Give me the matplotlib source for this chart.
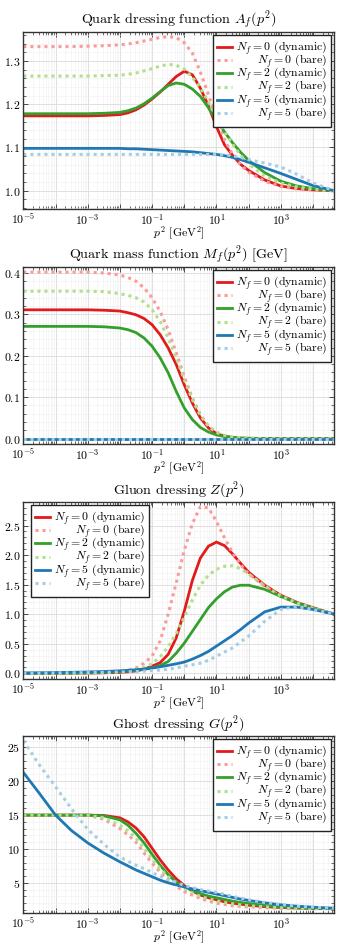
import matplotlib
matplotlib.use("Agg")
import matplotlib.pyplot as plt
from matplotlib.ticker import LogLocator, NullFormatter, AutoMinorLocator, MultipleLocator

plt.rcParams["font.family"] = "serif"
plt.rcParams["font.serif"] = ["cmr10"]
plt.rcParams["mathtext.fontset"] = "cm"
plt.rcParams["axes.formatter.use_mathtext"] = True

# momentum grid p^2 [GeV^2]
p2 = [1e-5, 3.16e-5, 1e-4, 3.16e-4, 1e-3, 3.16e-3, 1e-2, 1.78e-2, 3.16e-2, 5.62e-2,
      0.1, 0.178, 0.316, 0.562, 1.0, 1.78, 3.16, 5.62, 10.0, 17.8, 31.6, 56.2,
      100.0, 316.0, 1000.0, 3162.0, 1e4, 4.6e4]

# Quark dressing A_f
A_dyn0 = [1.173, 1.173, 1.173, 1.173, 1.173, 1.174, 1.176, 1.180, 1.187, 1.198, 1.212, 1.228, 1.246, 1.264,
          1.276, 1.268, 1.237, 1.196, 1.148, 1.106, 1.082, 1.061, 1.047, 1.025, 1.011, 1.005, 1.002, 1.0]
A_bare0 = [1.333, 1.333, 1.333, 1.333, 1.334, 1.335, 1.337, 1.339, 1.342, 1.346, 1.350, 1.354, 1.356, 1.354,
           1.342, 1.318, 1.274, 1.222, 1.165, 1.118, 1.084, 1.060, 1.043, 1.022, 1.010, 1.004, 1.002, 1.0]
A_dyn2 = [1.178, 1.178, 1.178, 1.178, 1.178, 1.179, 1.181, 1.185, 1.191, 1.201, 1.214, 1.229, 1.243, 1.249,
          1.246, 1.235, 1.218, 1.192, 1.163, 1.136, 1.111, 1.089, 1.070, 1.042, 1.022, 1.011, 1.005, 1.0]
A_bare2 = [1.265, 1.265, 1.265, 1.265, 1.265, 1.266, 1.267, 1.269, 1.272, 1.277, 1.282, 1.288, 1.292, 1.290,
           1.281, 1.262, 1.238, 1.205, 1.168, 1.137, 1.108, 1.082, 1.062, 1.034, 1.018, 1.009, 1.004, 1.0]
A_dyn5 = [1.098, 1.098, 1.098, 1.098, 1.098, 1.098, 1.098, 1.097, 1.097, 1.096, 1.095, 1.094, 1.093, 1.092,
          1.091, 1.090, 1.088, 1.086, 1.084, 1.081, 1.077, 1.072, 1.066, 1.053, 1.040, 1.026, 1.012, 1.0]
A_bare5 = [1.084, 1.084, 1.084, 1.084, 1.084, 1.084, 1.084, 1.084, 1.084, 1.084, 1.084, 1.084, 1.084, 1.084,
           1.084, 1.084, 1.084, 1.084, 1.084, 1.083, 1.081, 1.077, 1.072, 1.064, 1.055, 1.038, 1.018, 1.0]

# Quark mass M_f [GeV]
M_dyn0 = [0.311, 0.311, 0.311, 0.311, 0.311, 0.310, 0.308, 0.304, 0.299, 0.290, 0.275, 0.251, 0.219, 0.179,
          0.130, 0.086, 0.050, 0.026, 0.012, 0.006, 0.0025, 0.001, 0.0005, 0.0, 0.0, 0.0, 0.0, 0.0]
M_bare0 = [0.402, 0.402, 0.402, 0.402, 0.402, 0.400, 0.395, 0.389, 0.380, 0.364, 0.340, 0.307, 0.263, 0.207,
           0.150, 0.098, 0.058, 0.030, 0.015, 0.007, 0.003, 0.0015, 0.0007, 0.0, 0.0, 0.0, 0.0, 0.0]
M_dyn2 = [0.271, 0.271, 0.271, 0.271, 0.271, 0.270, 0.267, 0.263, 0.256, 0.243, 0.223, 0.195, 0.159, 0.114,
          0.074, 0.046, 0.027, 0.016, 0.009, 0.005, 0.003, 0.0015, 0.001, 0.0003, 0.0, 0.0, 0.0, 0.0]
M_bare2 = [0.356, 0.356, 0.356, 0.356, 0.356, 0.355, 0.350, 0.346, 0.340, 0.330, 0.311, 0.283, 0.243, 0.195,
           0.142, 0.094, 0.056, 0.030, 0.015, 0.008, 0.004, 0.002, 0.001, 0.0, 0.0, 0.0, 0.0, 0.0]
M_dyn5 = [0.0] * 28
M_bare5 = [0.0] * 28

# Gluon dressing Z
Z_dyn0 = [0.0, 0.0, 0.001, 0.002, 0.004, 0.008, 0.015, 0.025, 0.04, 0.07, 0.12, 0.18, 0.32, 0.60,
          1.05, 1.57, 1.95, 2.15, 2.22, 2.16, 2.02, 1.86, 1.71, 1.49, 1.32, 1.20, 1.11, 1.0]
Z_bare0 = [0.0, 0.0, 0.001, 0.002, 0.005, 0.012, 0.03, 0.05, 0.09, 0.17, 0.29, 0.55, 1.00, 1.53,
           2.08, 2.53, 2.82, 2.80, 2.57, 2.29, 2.04, 1.84, 1.68, 1.47, 1.30, 1.19, 1.10, 1.0]
Z_dyn2 = [0.0, 0.001, 0.002, 0.004, 0.008, 0.015, 0.028, 0.038, 0.05, 0.068, 0.09, 0.13, 0.20, 0.34,
          0.51, 0.71, 0.91, 1.11, 1.26, 1.38, 1.46, 1.49, 1.49, 1.42, 1.30, 1.19, 1.10, 1.0]
Z_bare2 = [0.0, 0.001, 0.002, 0.004, 0.007, 0.015, 0.03, 0.045, 0.065, 0.10, 0.16, 0.28, 0.45, 0.67,
           0.95, 1.24, 1.49, 1.66, 1.76, 1.81, 1.82, 1.77, 1.68, 1.48, 1.31, 1.19, 1.10, 1.0]
Z_dyn5 = [0.005, 0.008, 0.012, 0.017, 0.022, 0.03, 0.042, 0.05, 0.06, 0.072, 0.088, 0.11, 0.135, 0.16,
          0.19, 0.24, 0.30, 0.37, 0.46, 0.55, 0.64, 0.74, 0.85, 1.04, 1.12, 1.12, 1.08, 1.0]
Z_bare5 = [0.003, 0.004, 0.006, 0.009, 0.012, 0.016, 0.022, 0.026, 0.03, 0.036, 0.045, 0.055, 0.07, 0.09,
           0.12, 0.145, 0.17, 0.22, 0.29, 0.36, 0.43, 0.53, 0.63, 0.88, 1.08, 1.13, 1.08, 1.0]

# Ghost dressing G
G_dyn0 = [15.0, 15.0, 15.0, 15.0, 15.0, 14.95, 14.6, 14.0, 13.1, 11.8, 10.1, 8.4, 6.9, 5.6,
          4.6, 3.8, 3.2, 2.8, 2.5, 2.2, 2.0, 1.85, 1.7, 1.48, 1.35, 1.27, 1.22, 1.2]
G_bare0 = [15.0, 15.0, 15.0, 15.0, 15.0, 14.4, 13.0, 12.1, 11.0, 9.4, 7.9, 6.6, 5.4, 4.5,
           3.7, 3.2, 2.7, 2.3, 2.0, 1.8, 1.62, 1.52, 1.45, 1.32, 1.25, 1.22, 1.2, 1.2]
G_dyn2 = [15.0, 15.0, 15.0, 15.0, 15.0, 14.9, 14.3, 13.5, 12.3, 10.9, 9.2, 7.6, 6.2, 5.1,
          4.4, 3.9, 3.4, 3.05, 2.8, 2.55, 2.3, 2.1, 1.95, 1.65, 1.45, 1.32, 1.25, 1.2]
G_bare2 = [15.0, 15.0, 15.0, 15.0, 15.0, 14.6, 13.5, 12.7, 11.6, 10.1, 8.5, 7.1, 5.9, 4.9,
           4.1, 3.5, 3.0, 2.65, 2.35, 2.1, 1.9, 1.75, 1.62, 1.45, 1.35, 1.27, 1.22, 1.2]
G_dyn5 = [21.3, 18.2, 15.0, 12.7, 10.9, 9.4, 8.1, 7.5, 6.9, 6.4, 5.9, 5.4, 5.0, 4.7,
          4.4, 4.1, 3.85, 3.6, 3.35, 3.1, 2.85, 2.6, 2.4, 2.05, 1.75, 1.55, 1.4, 1.25]
G_bare5 = [26.0, 22.4, 19.2, 15.9, 12.9, 10.7, 8.8, 8.2, 7.6, 7.1, 6.5, 6.0, 5.5, 5.1,
           4.6, 4.3, 4.0, 3.8, 3.6, 3.3, 3.0, 2.75, 2.5, 2.1, 1.8, 1.55, 1.4, 1.25]

labels = [r"$N_f = 0$ (dynamic)", r"$N_f = 0$ (bare)",
          r"$N_f = 2$ (dynamic)", r"$N_f = 2$ (bare)",
          r"$N_f = 5$ (dynamic)", r"$N_f = 5$ (bare)"]
colors = ["#e31a1c", "#fb9a99", "#33a02c", "#b2df8a", "#1f78b4", "#a6cee3"]

panels = [
    ("Quark dressing function $A_f(p^2)$", [A_dyn0, A_bare0, A_dyn2, A_bare2, A_dyn5, A_bare5],
     (0.958, 1.367), 0.1, "upper right", (1.0, 1.0)),
    ("Quark mass function $M_f(p^2)$ [GeV]", [M_dyn0, M_bare0, M_dyn2, M_bare2, M_dyn5, M_bare5],
     (-0.013, 0.4145), 0.1, "upper right", (1.0, 1.0)),
    ("Gluon dressing $Z(p^2)$", [Z_dyn0, Z_bare0, Z_dyn2, Z_bare2, Z_dyn5, Z_bare5],
     (-0.096, 2.90), 0.5, "upper left", (0.013, 1.0)),
    ("Ghost dressing $G(p^2)$", [G_dyn0, G_bare0, G_dyn2, G_bare2, G_dyn5, G_bare5],
     (0.55, 26.7), 5, "upper right", (1.0, 1.0)),
]

fig = plt.figure(figsize=(3.41, 9.52), dpi=100)
bottoms = [0.7805, 0.5336, 0.2868, 0.041]

legends = []
for (title, series, ylim, ystep, loc, anchor), b in zip(panels, bottoms):
    ax = fig.add_axes([0.0685, b, 0.912, 0.186])
    for i, (vals, lab, c) in enumerate(zip(series, labels, colors)):
        if i % 2 == 0:
            ax.plot(p2, vals, color=c, lw=2.0, ls="-", label=lab)
        else:
            ax.plot(p2, vals, color=c, lw=2.2, ls=(0, (1, 1.3)), label=lab)
    ax.set_xscale("log")
    ax.set_xlim(1e-5, 4.6e4)
    ax.set_ylim(*ylim)
    ax.xaxis.set_minor_locator(LogLocator(base=10, subs=[2, 3, 4, 5, 6, 7, 8, 9], numticks=20))
    ax.xaxis.set_minor_formatter(NullFormatter())
    ax.set_xticks([1e-5, 1e-4, 1e-3, 1e-2, 1e-1, 1, 10, 100, 1e3, 1e4])
    ax.set_xticklabels(["$10^{-5}$", "", "$10^{-3}$", "", "$10^{-1}$", "", "$10^{1}$", "", "$10^{3}$", ""])
    ax.yaxis.set_major_locator(MultipleLocator(ystep))
    ax.yaxis.set_minor_locator(AutoMinorLocator(5))
    ax.tick_params(which="both", direction="in", top=True, right=True, labelsize=8.5,
                   color="#333333", pad=2)
    ax.tick_params(which="major", length=3.5, width=0.6)
    ax.tick_params(which="minor", length=2, width=0.5)
    ax.grid(True, which="major", color="#dadada", lw=0.6)
    ax.grid(True, which="minor", color="#efefef", lw=0.4)
    ax.set_axisbelow(True)
    for s in ax.spines.values():
        s.set_color("#333333")
        s.set_linewidth(1.0)
    ax.set_title(title, fontsize=10.2, pad=6)
    ax.set_xlabel(r"$p^2$ [GeV$^2$]", fontsize=8.5, labelpad=-1.5)
    leg = ax.legend(loc=loc, bbox_to_anchor=anchor, fontsize=8.5, frameon=True, fancybox=False,
                    framealpha=1, edgecolor="#222222", handlelength=1.3, handletextpad=0.3,
                    handleheight=0.5, labelspacing=-0.32, borderpad=0.35, borderaxespad=0.3)
    leg.get_frame().set_linewidth(1.0)
    legends.append(leg)

# right-align legend texts
fig.canvas.draw()
renderer = fig.canvas.get_renderer()
for leg in legends:
    texts = leg.get_texts()
    widths = [t.get_window_extent(renderer).width for t in texts]
    wmax = max(widths)
    for t, w in zip(texts, widths):
        t.set_position((wmax - w, 0))

fig.savefig("out.png", dpi=100)
